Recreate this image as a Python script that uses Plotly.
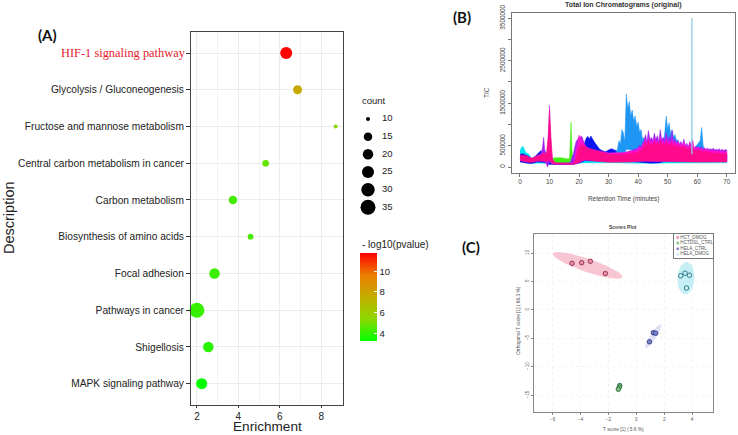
# dot plot (A), chromatograms (B), scores plot (C)
import numpy as np
import plotly.graph_objects as go

W, H = 738, 435

# %% panel A values
pathways = ['HIF-1 signaling pathway', 'Glycolysis / Gluconeogenesis', 'Fructose and mannose metabolism',
            'Central carbon metabolism in cancer', 'Carbon metabolism', 'Biosynthesis of amino acids',
            'Focal adhesion', 'Pathways in cancer', 'Shigellosis', 'MAPK signaling pathway']
enrichment = [6.31, 6.86, 8.7, 5.32, 3.74, 4.59, 2.85, 2.0, 2.55, 2.23]
counts = [25, 16, 10, 13, 15, 12, 20, 35, 20, 22]
log_p = [11.7, 7.7, 5.4, 4.8, 4.3, 4.4, 4.2, 4.1, 3.9, 3.3]
legend_counts = [10, 15, 20, 25, 30, 35]
legend_px = [4, 8.5, 10.5, 12, 13.5, 15]

# %% panel B values, TIC in thousands
half_min_40_70 = [40, 40.5, 41, 41.5, 42, 42.5, 43, 43.5, 44, 44.5,
                  45, 45.5, 46, 46.5, 47, 47.5, 48, 48.5, 49, 49.5,
                  50, 50.5, 51, 51.5, 52, 52.5, 53, 53.5, 54, 54.5,
                  55, 55.5, 56, 56.5, 57, 57.5, 58, 58.5, 59, 59.5,
                  60, 60.5, 61, 61.5, 62, 62.5, 63, 63.5, 64, 64.5,
                  65, 65.5, 66, 66.5, 67, 67.5, 68, 68.5, 69, 69.5,
                  70]

blue_t = [0, 1, 2, 3, 4, 5, 6, 7, 8, 9, 10, 11, 12, 14, 16, 17, 18, 19, 20, 21, 22, 22.5, 23, 23.5, 24, 24.5, 25, 25.5, 26,
          27, 28, 29, 30, 31, 32, 33, 34, 36, 38, 40, 42, 44, 46, 48, 50, 55, 60, 65, 70]
blue_hi = [300, 310, 280, 240, 200, 240, 300, 380, 340, 300, 200, 120, 90, 90, 90, 100, 130, 170, 300, 350, 600, 690, 720, 660, 730, 650, 610, 560, 520,
           420, 380, 360, 400, 430, 400, 370, 350, 340, 340, 340, 360, 360, 380, 380, 380, 350, 340, 320, 300]
blue_low_t = [0, 3, 4, 6, 9, 10, 18, 20, 22, 28, 38, 42, 44, 47, 49, 70]
blue_lo = [120, 80, 80, 120, 100, 60, 60, 90, 150, 135, 130, 100, 90, 95, 130, 130]

sky_t = [30, 30.5, 31, 31.5, 32, 32.5, 33, 33.5, 34, 34.5,
         35, 35.5, 36, 36.5, 37, 37.5, 38, 38.5, 39, 39.5,
         40, 40.5, 41, 41.5, 42, 42.5, 43, 43.5, 44, 44.5,
         45, 45.5, 46, 46.5, 47, 47.5, 48, 48.5, 49, 49.5,
         50, 50.5, 51, 51.5, 52, 52.5, 53, 53.5, 54, 54.5,
         55, 55.5, 56, 56.5, 57, 57.5, 58, 58.5, 59, 59.5,
         60, 60.5, 61, 61.5, 62, 62.5, 63, 63.5, 64]
sky_hi = [220, 250, 230, 290, 270, 340, 420, 620, 540, 880,
          800, 620, 1720, 1380, 1540, 1200, 1340, 1080, 1200, 960,
          1060, 820, 880, 640, 700, 520, 560, 440, 480, 400,
          420, 380, 400, 380, 420, 420, 480, 520, 800, 1200,
          900, 1040, 780, 880, 700, 760, 620, 640, 480, 500,
          420, 430, 360, 380, 420, 480, 520, 430, 400, 480,
          520, 560, 620, 930, 520, 360, 300, 260, 240]
sky_low_t = [30, 35, 36, 40, 42, 44, 65]
sky_lo = [180, 210, 420, 380, 250, 180, 180]
spike_t = [58.1, 58.2, 58.3]
spike_tic = [300, 3500, 300]

green_t = [10.5, 11, 12, 13, 14, 15, 16, 16.8, 17.1, 17.3, 17.6, 18]
green_hi = [120, 200, 220, 225, 215, 205, 190, 200, 600, 1060, 400, 100]
green_low_t = [10.5, 11, 17.6, 18]
green_lo = [80, 100, 100, 70]

cyan_t = [0, 0.5, 1, 1.5, 2, 3, 4, 20, 25, 30, 40, 50, 60, 70]
cyan_hi = [380, 460, 490, 400, 340, 300, 180, 180, 200, 160, 150, 160, 170, 150]
cyan_low_t = [0, 4, 30, 40, 70]
cyan_lo = [130, 90, 100, 90, 100]

purple_t = [0, 4, 7, 7.6, 8, 8.4, 9, 9.3, 9.6, 10, 10.4, 11, 12, 16, 17, 18, 19, 20, 21, 22, 23, 25, 30, 35, 38] + half_min_40_70
purple_hi = [260, 200, 300, 450, 700, 400, 300, 300, 600, 1450, 600, 160, 90, 90, 100, 300, 600, 700, 720, 500, 420, 360, 300, 320, 400,
             450, 520, 470, 560, 620, 760, 600, 860, 640, 700,
             620, 800, 640, 740, 600, 880, 640, 700, 620, 820,
             620, 720, 640, 860, 600, 660, 560, 620, 540, 600,
             520, 660, 500, 560, 470, 600, 480, 510, 450, 490,
             460, 480, 440, 470, 430, 450, 420, 440, 410, 430,
             410, 440, 400, 420, 400, 430, 390, 420, 390, 410,
             400]
purple_low_t = [0, 4, 7, 8.4, 9, 9.3, 9.6, 10, 11, 12, 17, 18, 20, 22, 25, 30, 58, 70]
purple_lo = [150, 120, 140, 120, 60, 0, 60, 120, 70, 60, 60, 70, 110, 160, 160, 140, 130, 130]

magenta_t = [18.5, 19, 19.5, 20, 20.5, 21, 22, 23, 25, 30, 35] + half_min_40_70
magenta_hi = [200, 420, 620, 750, 680, 620, 520, 440, 400, 330, 340,
              400, 470, 430, 520, 560, 650, 540, 690, 560, 620,
              540, 680, 580, 620, 540, 720, 560, 640, 540, 680,
              560, 620, 550, 650, 540, 600, 520, 580, 500, 560,
              500, 580, 470, 520, 460, 560, 520, 640, 430, 470,
              430, 470, 410, 440, 400, 430, 390, 420, 380, 400,
              380, 400, 370, 390, 360, 390, 360, 380, 350, 370,
              350]
magenta_low_t = [18.5, 20, 22, 25, 30, 40, 58, 59, 70]
magenta_lo = [70, 130, 180, 160, 140, 150, 150, 140, 140]

pink_t = [0, 0.5, 1, 1.5, 2, 2.5, 3, 3.5, 4, 4.5, 5, 5.5, 6, 6.5, 7, 7.5, 8, 8.5, 9, 9.5, 10, 10.5, 11, 12, 14, 17, 18, 19, 20, 21,
          22, 22.5, 23, 23.5, 24, 24.5, 25, 25.5, 26, 26.5,
          27, 27.5, 28, 28.5, 29, 29.5, 30, 30.5, 31, 31.5,
          32, 32.5, 33, 33.5, 34, 34.5, 35, 35.5, 36, 36.5,
          37, 37.5, 38, 38.5, 39, 39.5] + half_min_40_70
pink_hi = [270, 300, 260, 290, 250, 270, 220, 240, 200, 220, 230, 260, 270, 290, 280, 320, 340, 310, 340, 700, 1350, 700, 180, 100, 90, 90, 90, 200, 480, 520,
           500, 440, 460, 410, 440, 390, 420, 370, 400, 360,
           380, 340, 360, 320, 340, 300, 320, 290, 310, 280,
           300, 280, 310, 270, 300, 280, 320, 290, 320, 290,
           330, 300, 340, 310, 350, 330,
           340, 400, 370, 450, 480, 590, 500, 620, 500, 560,
           500, 620, 520, 580, 500, 640, 510, 560, 480, 600,
           500, 570, 500, 590, 480, 520, 470, 530, 440, 490,
           450, 510, 420, 460, 410, 470, 400, 440, 370, 410,
           380, 420, 360, 390, 350, 380, 340, 370, 330, 350,
           320, 350, 310, 340, 310, 330, 300, 330, 290, 320,
           300]
pink_low_t = [0, 3, 4, 6, 9, 9.5, 10, 10.5, 11, 12, 18, 20, 21, 22, 25, 30, 38, 42, 47, 49, 54, 59, 70]
pink_lo = [150, 110, 110, 150, 130, 150, 150, 120, 70, 60, 60, 100, 150, 170, 140, 110, 115, 140, 140, 125, 120, 115, 115]

# %% panel C values
hct_x = [-4.61, -3.92, -3.3, -2.22]
hct_y = [8.2, 8.3, 8.55, 6.4]
hctdsl_x = [-1.19, -1.22, -1.29]
hctdsl_y = [-13.3, -13.6, -13.95]
hela_ctrl_x = [1.22, 1.39, 0.94]
hela_ctrl_y = [-4.0, -4.1, -5.6]
hela_dmog_x = [3.19, 3.5, 3.81, 3.6]
hela_dmog_y = [6.0, 6.45, 6.1, 3.85]
group_names = ['HCT_DMOG', 'HCTDSL_CTRL', 'HELA_CTRL', 'HELA_DMOG']
# centre x, half width x, centre y, half height y, phase
ell_hct = [-3.5, 2.5, 7.82, 2.35, 2.59]
ell_hctdsl = [-1.22, 0.14, -13.65, 0.55, 0.5]
ell_ctrl = [1.21, 0.59, -4.65, 2.15, 0.45]
ell_dmog = [3.56, 0.61, 5.58, 2.85, 1.5]


def dom_x(a, b):
    return [a / W, b / W]


def dom_y(top, bottom):
    return [1 - bottom / H, 1 - top / H]


def label(text, x, y, size, color='#222222', family='Liberation Sans', xanchor='left', angle=0, bold=False):
    return dict(text='<b>%s</b>' % text if bold else text, x=x / W, y=1 - y / H, xref='paper', yref='paper',
                xanchor=xanchor, yanchor='middle', textangle=angle, showarrow=False,
                font=dict(size=size, color=color, family=family))


fig = go.Figure()

# %% A: dots
sizes = np.interp(counts, legend_counts, legend_px)
colorscale = [[0, '#00FF00'], [0.25, '#8CD800'], [0.5, '#C4AE00'], [0.75, '#EA7D00'], [1, '#FF0000']]
fig.add_trace(go.Scatter(
    x=enrichment, y=pathways, mode='markers', xaxis='x', yaxis='y', cliponaxis=False,
    marker=dict(size=sizes, color=log_p, colorscale=colorscale, cmin=3.26, cmax=11.76, line_width=0, opacity=1,
                colorbar=dict(x=360 / W, y=1 - 253 / H, xanchor='left', yanchor='top', thickness=17, len=88,
                              lenmode='pixels', xpad=0, ypad=0, outlinewidth=0, ticks='inside', ticklen=3,
                              tickcolor='white', tickvals=[4, 6, 8, 10], tickfont=dict(size=9.5, color='#222222',
                              family='Liberation Sans')))))
fig.add_trace(go.Scatter(
    x=[8] * 6, y=legend_counts, mode='markers', xaxis='x4', yaxis='y4',
    marker=dict(size=legend_px, color='black', line_width=0, opacity=1)))
fig.add_trace(go.Scatter(
    x=[22] * 6, y=legend_counts, mode='text', text=[str(c) for c in legend_counts], textposition='middle right',
    textfont=dict(size=9.5, color='#222222', family='Liberation Sans'), xaxis='x4', yaxis='y4'))


# %% B: chromatogram bands
def band(t, hi, low_t, lo, color):
    fig.add_trace(go.Scatter(x=list(t) + list(low_t)[::-1], y=[v * 1000 for v in hi] + [v * 1000 for v in lo[::-1]],
                             mode='lines', fill='toself', fillcolor=color, line=dict(color=color, width=0.5),
                             xaxis='x2', yaxis='y2'))


band(cyan_t, cyan_hi, cyan_low_t, cyan_lo, '#00E5EE')
band(blue_t, blue_hi, blue_low_t, blue_lo, '#0A14F0')
band(sky_t, sky_hi, sky_low_t, sky_lo, '#1E96F5')
band(green_t, green_hi, green_low_t, green_lo, '#40F010')
band(purple_t, purple_hi, purple_low_t, purple_lo, '#A020F0')
band(magenta_t, magenta_hi, magenta_low_t, magenta_lo, '#FF10D0')
band(pink_t, pink_hi, pink_low_t, pink_lo, '#FF0A8C')
fig.add_trace(go.Scatter(x=spike_t, y=[v * 1000 for v in spike_tic], mode='lines',
                         line=dict(color='#8CC8E0', width=0.8), xaxis='x2', yaxis='y2'))

# %% C: scores
groups = [(hct_x, hct_y, ell_hct, '#F8C5D3', '#E890A8', '#8A2848'),
          (hctdsl_x, hctdsl_y, ell_hctdsl, '#DDF2DD', '#80C080', '#2A6A3A'),
          (hela_ctrl_x, hela_ctrl_y, ell_ctrl, '#DFE0F5', '#8088D0', '#2A3580'),
          (hela_dmog_x, hela_dmog_y, ell_dmog, '#C5EEF5', '#C8F0F5', '#1F6F80')]
theta = np.linspace(0, 2 * np.pi, 80)
for gx, gy, (cx, rx, cy, ry, phase), ell_col, fill_col, edge_col in groups:
    fig.add_trace(go.Scatter(x=cx + rx * np.cos(theta), y=cy + ry * np.cos(theta + phase), mode='lines', fill='toself',
                             fillcolor=ell_col, line_width=0, xaxis='x3', yaxis='y3'))
for gx, gy, (cx, rx, cy, ry, phase), ell_col, fill_col, edge_col in groups:
    fig.add_trace(go.Scatter(x=gx, y=gy, mode='markers', xaxis='x3', yaxis='y3',
                             marker=dict(size=4.5, color=fill_col, line=dict(color=edge_col, width=0.9))))

# legend box of C
fig.add_trace(go.Scatter(
    x=[0.09] * 4, y=group_names, mode='markers+text', text=group_names, textposition='middle right',
    textfont=dict(size=4.6, color='#555555', family='Liberation Sans'), xaxis='x5', yaxis='y5',
    marker=dict(size=2.5, symbol='square', color=[g[4] for g in groups], line_width=0)))

frame = dict(showline=True, mirror=True, zeroline=False)
a_font = dict(size=10.2, color='#222222', family='Liberation Sans')
b_font = dict(size=6.4, color='#444444', family='Liberation Sans')
c_font = dict(size=4.6, color='#555555', family='Liberation Sans')

fig.update_layout(
    width=W, height=H, margin=dict(l=0, r=0, t=0, b=0, autoexpand=False), showlegend=False, paper_bgcolor='white',
    plot_bgcolor='white',
    xaxis=dict(domain=dom_x(190.5, 342.5), range=[1.69, 9.03], tickvals=[2, 4, 6, 8], ticks='outside', ticklen=2,
               tickcolor='#333333', tickfont=dict(size=10, color='#222222', family='Liberation Sans'),
               linecolor='#444444', gridcolor='#ECECEC', minor=dict(dtick=1, showgrid=True, gridcolor='#F2F2F2'),
               anchor='y', **frame),
    yaxis=dict(domain=dom_y(31.7, 405), type='category', categoryorder='array', categoryarray=pathways,
               range=[9.58, -0.58], tickvals=pathways, ticktext=[''] + pathways[1:], ticks='outside', ticklen=3.5,
               tickcolor='#333333', tickfont=a_font, linecolor='#444444', gridcolor='#ECECEC', anchor='x', **frame),
    xaxis2=dict(domain=dom_x(512, 734.7), range=[-2.7, 72.7], tickvals=list(range(0, 71, 10)), ticks='outside', ticklen=3,
                tickcolor='#777777', tickfont=b_font, linecolor='#777777', showgrid=False, anchor='y2', **frame),
    yaxis2=dict(domain=dom_y(12.7, 172.7), range=[-134000, 3630000], tickvals=list(range(0, 3500001, 500000)),
                ticktext=['0', '500000', '', '1500000', '', '2500000', '', '3500000'], tickangle=-90, ticks='outside',
                ticklen=3, tickcolor='#777777', tickfont=b_font, linecolor='#777777', showgrid=False, anchor='x2', **frame),
    xaxis3=dict(domain=dom_x(534.3, 712.7), range=[-7.32, 5.48], tickvals=[-6, -4, -2, 0, 2, 4], ticks='outside', ticklen=2,
                tickcolor='#888888', tickfont=c_font, linecolor='#888888', gridcolor='#F3F3F3', griddash='dot', anchor='y3', **frame),
    yaxis3=dict(domain=dom_y(233.7, 412.3), range=[-18.0, 13.4], tickvals=[-15, -10, -5, 0, 5, 10], tickangle=-90, ticks='outside',
                ticklen=2, tickcolor='#888888', tickfont=c_font, linecolor='#888888', gridcolor='#F3F3F3', griddash='dot',
                anchor='x3', **frame),
    xaxis4=dict(domain=dom_x(360, 400), range=[0, 40], visible=False, anchor='y4'),
    yaxis4=dict(domain=dom_y(110, 216), range=[37.46, 7.45], visible=False, anchor='x4'),
    xaxis5=dict(domain=dom_x(674.3, 712.7), range=[0, 1], showticklabels=False, ticks='', showgrid=False,
                linecolor='#777777', anchor='y5', **frame),
    yaxis5=dict(domain=dom_y(234, 257.7), type='category', categoryorder='array', categoryarray=group_names,
                range=[3.6, -0.6], showticklabels=False, ticks='', showgrid=False, linecolor='#777777', anchor='x5', **frame),
    annotations=[
        label('(A)', 36, 35, 15, color='#111111', family='Lato', bold=True),
        label('(B)', 451, 17, 15, color='#111111', family='Lato', bold=True),
        label('(C)', 460, 247, 15, color='#111111', family='Lato', bold=True),
        label(pathways[0], 188.5, 53, 12.4, color='#E8202C', family='Liberation Serif', xanchor='right'),
        label('Description', 9, 218, 14.5, angle=-90, xanchor='center'),
        label('Enrichment', 267, 426.8, 13.6, xanchor='center'),
        label('count', 360, 101, 9.5),
        label('- log10(pvalue)', 360, 244, 10),
        label('Total Ion Chromatograms (original)', 623, 5.5, 7, color='#333333', xanchor='center', bold=True),
        label('Retention Time (minutes)', 623, 199, 6.4, color='#444444', xanchor='center'),
        label('TIC', 487, 93, 6.4, color='#444444', angle=-90, xanchor='center'),
        label('Scores Plot', 623, 226.5, 5, color='#444444', xanchor='center', bold=True),
        label('T score [1] ( 5.6 %)', 623, 429, 4.8, color='#555555', xanchor='center'),
        label('Orthogonal T score [1] ( 66.3 %)', 518, 321, 4.8, color='#555555', angle=-90, xanchor='center'),
    ])

fig.write_html("out.html", config=dict(displayModeBar=False), post_script="document.body.style.margin='0';")
